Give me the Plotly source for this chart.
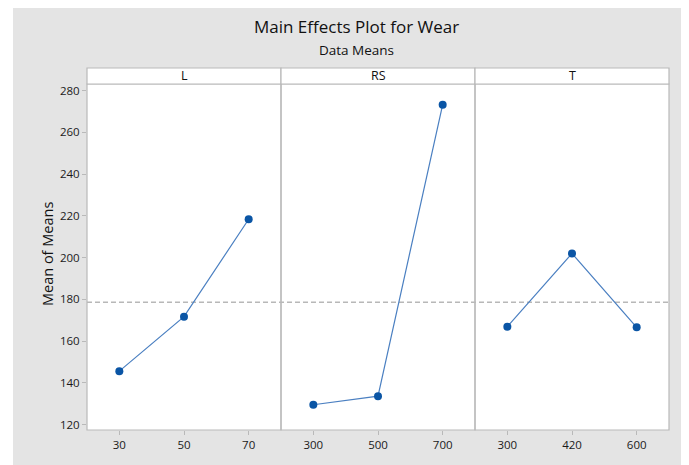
import plotly.graph_objects as go

# ---- data ----
factors = ["L", "RS", "T"]
L_levels = ["30", "50", "70"]
L_means = [145.6, 171.7, 218.4]
RS_levels = ["300", "500", "700"]
RS_means = [129.5, 133.6, 273.3]
T_levels = ["300", "420", "600"]
T_means = [166.9, 202.0, 166.6]
grand_mean = 178.6
y_ticks = [120, 140, 160, 180, 200, 220, 240, 260, 280]

levels = [L_levels, RS_levels, T_levels]
means = [L_means, RS_means, T_means]

# page body has an 8px margin; figure sized to fit window
OFF = 8
W, H = 689 - OFF, 465 - OFF
ml, mr, mt, mb = 87 - OFF, 20, 68 - OFF, 35
plot_w = W - ml - mr
plot_h = H - mt - mb
strip_h = 16
ytop = (plot_h - strip_h) / plot_h

FONT = "Open Sans"
GRAY_BG = "#e4e4e4"
LINE_GRAY = "#b9b9b9"


def px_x(p):  # reference-image pixel -> paper x
    return (p - OFF - ml) / plot_w


def px_y(p):  # reference-image pixel -> paper y
    return (H - mb - (p - OFF)) / plot_h


fig = go.Figure()
domains = [[0, 1/3], [1/3, 2/3], [2/3, 1]]
for i, (lv, mv) in enumerate(zip(levels, means)):
    xa = "x" if i == 0 else f"x{i+1}"
    fig.add_trace(go.Scatter(
        x=list(range(len(lv))), y=mv, xaxis=xa, yaxis="y",
        mode="lines+markers",
        line=dict(color="#4a7fc1", width=1.2),
        marker=dict(color="#0a55a5", size=8),
        showlegend=False, hoverinfo="skip"))

axis_common = dict(range=[-0.5, 2.5], tickvals=[0, 1, 2], ticks="outside",
                   ticklen=4, tickcolor=LINE_GRAY, showgrid=False, zeroline=False,
                   showline=False, tickfont=dict(family=FONT, size=11.5, color="#1a1a1a"))
layout_axes = {}
for i, lv in enumerate(levels):
    key = "xaxis" if i == 0 else f"xaxis{i+1}"
    layout_axes[key] = dict(axis_common, domain=domains[i], ticktext=lv, anchor="y")

fig.update_layout(
    width=W, height=H,
    margin=dict(l=ml, r=mr, t=mt, b=mb),
    paper_bgcolor=GRAY_BG, plot_bgcolor="white",
    **layout_axes,
    yaxis=dict(domain=[0, ytop], range=[117.4, 283.2], tickvals=y_ticks,
               ticks="outside", ticklen=4, tickcolor=LINE_GRAY,
               showgrid=False, zeroline=False, showline=False,
               tickfont=dict(family=FONT, size=11.5, color="#1a1a1a")),
)

shapes = []
# white outer border on the left
shapes.append(dict(type="rect", xref="paper", yref="paper", x0=px_x(OFF), x1=px_x(13),
                   y0=px_y(470), y1=px_y(OFF), fillcolor="white", line=dict(width=0)))
# grand mean dashed line
shapes.append(dict(type="line", xref="paper", yref="y", x0=0, x1=1,
                   y0=grand_mean, y1=grand_mean, layer="below",
                   line=dict(color="#b8b8b8", width=1.5, dash="5px,3px")))
for i, d in enumerate(domains):
    shapes.append(dict(type="rect", xref="paper", yref="paper", x0=d[0], x1=d[1],
                       y0=0, y1=ytop, line=dict(color=LINE_GRAY, width=1.2)))
    shapes.append(dict(type="rect", xref="paper", yref="paper", x0=d[0], x1=d[1],
                       y0=ytop, y1=1, fillcolor="white", line=dict(color=LINE_GRAY, width=1.2)))

annotations = []
for i, d in enumerate(domains):
    annotations.append(dict(text=factors[i], xref="paper", yref="paper",
                            x=(d[0] + d[1]) / 2, y=(ytop + 1) / 2, showarrow=False,
                            xanchor="center", yanchor="middle",
                            font=dict(family=FONT, size=12.5, color="#111")))
annotations.append(dict(text="Main Effects Plot for Wear", xref="paper", yref="paper",
                        x=px_x(356), y=px_y(27), showarrow=False, xanchor="center",
                        yanchor="middle", font=dict(family=FONT, size=17, color="#111")))
annotations.append(dict(text="Data Means", xref="paper", yref="paper",
                        x=px_x(356), y=px_y(50), showarrow=False, xanchor="center",
                        yanchor="middle", font=dict(family=FONT, size=13.5, color="#111")))
annotations.append(dict(text="Mean of Means", xref="paper", yref="paper",
                        x=px_x(47), y=px_y(254), showarrow=False, textangle=-90,
                        xanchor="center", yanchor="middle",
                        font=dict(family=FONT, size=14.5, color="#111")))

fig.update_layout(shapes=shapes, annotations=annotations)
fig.write_html("out.html")
